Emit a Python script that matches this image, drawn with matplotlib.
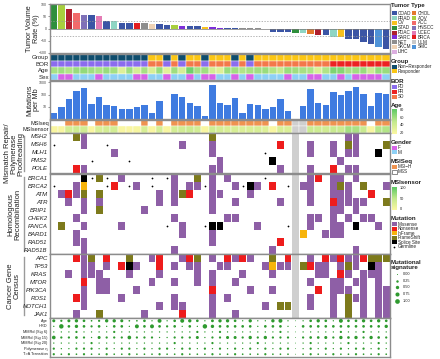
import numpy as np
import matplotlib
matplotlib.use("Agg")
import matplotlib.pyplot as plt
from matplotlib.patches import Rectangle
from matplotlib.colors import LinearSegmentedColormap

plt.rcParams['font.family'] = ['Liberation Sans', 'DejaVu Sans']

# ---- data ----
tumor_types = ['COAD', 'PRAD', 'OV', 'STAD', 'PDAC', 'SARC', 'NET', 'SKCM', 'LIHC',
               'CHOL', 'AOV', 'ACC', 'HNSCC', 'UCEC', 'BRCA', 'ULM', 'SMC']
tumor_colors = ['#3b55a5', '#8fd6c4', '#f7c11e', '#2f8f3c', '#b01f2e', '#7d2ed8', '#8e8e8e',
                '#efd2b4', '#dcaee0', '#e4782c', '#a8cf3e', '#f26a6a', '#7f71b8', '#e47bb4',
                '#e41d1f', '#c9c9c9', '#4f93d8']

patient_type = ['STAD', 'AOV', 'PDAC', 'ACC', 'HNSCC', 'COAD', 'UCEC', 'COAD', 'PRAD', 'COAD',
                'COAD', 'BRCA', 'NET', 'SKCM', 'COAD', 'COAD', 'AOV', 'SARC', 'COAD', 'COAD',
                'OV', 'SARC', 'SARC', 'COAD', 'COAD', 'NET', 'NET', 'NET', 'LIHC', 'COAD',
                'COAD', 'COAD', 'STAD', 'PRAD', 'CHOL', 'PDAC', 'COAD', 'PRAD', 'OV', 'COAD',
                'COAD', 'COAD', 'COAD', 'SMC', 'COAD']
tumor_change = [100, 96, 79, 63, 57, 56, 49, 31, 29, 23, 23, 21, 21, 19, 17, 16, 13, 12, 11, 11,
                7, 5, 4, 3, 2, 1, 1, 1, -3, -13, -16, -16, -17, -17, -21, -25, -27, -35, -35,
                -44, -44, -57, -64, -75, -84]

bor = list("PPPPPPPPPPPPP" + "SS" + "P" + "S" + "P" + "SS" + "P" + "SSS" + "P" + "S" + "P"
           + "SSSSSSSSSS" + "RRRRRRRR")
ages = [58, 60, 55, 62, 64, 60, 57, 62, 59, 35, 60, 40, 58, 38, 62, 33, 60, 40, 74, 58,
        60, 42, 36, 62, 60, 55, 58, 60, 62, 55, 48, 62, 60, 58, 56, 38, 55, 70, 68, 58,
        60, 62, 45, 63, 62]
sex = list("MFFMMMFMMMMFFMMFMMFMFFMMFMFMMMMFMMFFMMFMFFFFM")

mut_per_mb = [3.3, 8.9, 47, 180, 355, 16.5, 60, 13.7, 11, 6.9, 7.2, 8.9, 13, 3.1, 32, 0,
              104, 68, 21, 11, 1.7, 610, 22, 15, 54, 3.3, 16.5, 14, 7, 9, 47, 4.5, 0, 11,
              295, 21, 15, 158, 100, 180, 400, 110, 12, 130, 110]

msiseq = list("SSHHHSHHHSSSHSHSHHHHSHHHHHHHHSHHNNHHHHHHHHSHH")
msisensor = [2, 3, 35, 40, 38, 2, 30, 34, 36, 3, 2, 4, 32, 2, 33, 3, 35, 38, 42, 36,
             3, 40, 34, 30, 32, 28, 30, 32, 26, 3, 30, 28, 0, 0, 42, 40, 38, 45, 44, 65,
             62, 45, 3, 55, 58]
na_col = 32

mmr_genes = ['MSH2', 'MSH6', 'MLH1', 'PMS2', 'POLE']
mmr_hits = ["3F 4M 21F 39M 40M",
            "0G 4M 7G 17M 21M 30N 34M 37M 39F 40M 44F",
            "8M 21M 28G 34M 37M 39M 40M 43S",
            "5G 10G 22M 29S 38M",
            "3N 4M 21M 22M 30M 34M 37N 39M 40M"]
hr_genes = ['BRCA1', 'BRCA2', 'ATM', 'ATR', 'BRIP1', 'CHEK2', 'FANCA', 'BARD1', 'RAD51', 'RAD51B']
hr_hits = ["4S 5G 6F 7G 9M 13G 15G 16M 19F 21M 23M 28G 34M 35N 37M 38M 40M",
           "0G 3M 4I 7G 8N 10G 11M 13G 16M 18M 19M 20G 21M 24M 25G 26S 27M 29N 31G 33M 34M 37M 38F 39M 41F 44M",
           "1M 2N 3M 4F 6F 14M 16M 17F 18N 21M 22M 26M 34M 37M 38M 39M 42N",
           "2M 4M 6M 14M 16M 21M 24M 30M 34M 37N 38M 39M 40M 41M 44F",
           "4M 6F 12M 21M 37M 38M 40M",
           "3M 16M 23M 24M 34M 35M 37M 39M 41M 42M",
           "1F 4M 9M 15G 17M 20G 21S 22S 27M 31G 34M 37M 38M 40S 43M",
           "3M 17M 21M 33I 36M 37M 38M",
           "3M 4M 21M 30N",
           "4M 16M 29M 40M"]
cgc_genes = ['APC', 'TP53', 'KRAS', 'MTOR', 'PIK3CA', 'ROS1', 'NOTCH1', 'JAK1']
cgc_hits = ["3N 4M 5F 7N 10F 13M 14N 17M 18N 19F 21M 23N 24M 25N 26M 29F 31N 34M 36N 37M 38N 39M 40M 41N 42F 43F 44F",
            "4M 5M 7M 9N 10S 11M 14N 16M 18M 19M 22M 23M 28M 29I 30M 31M 33F 34N 35M 36M 38M 39F 40M 42S 43M",
            "2M 4M 5M 6M 10M 14M 19M 21M 25M 29M 35M 36M 38N 39M 41M 42M 43M",
            "4N 6M 7M 13M 16M 19M 21M 24M 34M 37M 38M 40M 41M 43M",
            "4M 6M 7M 11M 21N 26M 29M 35N 37M 38M 39M 41M 43M 44M",
            "3N 4M 9M 16M 21M 23M 34M 37M 39F 40M 41M 43M 44M",
            "4M 14M 16M 17M 21M 28M 30F 31F 34M 37M 39F 41M 43M 44M",
            "3M 6F 12M 17N 21M 24M 37M 39F 41M 43M 44M"]

sig_names = ['Age', 'HRD', 'MMRd (Sig 6)', 'MMRd (Sig 15)', 'MMRd (Sig 20)',
             'Polymerase \u03b7', 'T>A Transition']
sig_age = [.4, .2, .4, .5, .3, .1, .2, .5, .5, .4, .1, .1, .3, .05, .7, .05, .3, .7, .5, .3,
           .05, .35, .5, .5, .3, .05, .5, .05, .05, .5, .7, .05, 0, .05, .3, .5, .3, .05, .7, .3,
           .3, .5, .3, .5, .3]
sig_hrd = [.05, .9, .3, .5, .3, .2, .3, .05, .3, .3, .05, .7, .3, .7, .3, .2, .3, .05, .3, .05,
           .9, .5, .3, .3, .3, .3, .3, .05, .3, .3, .3, .05, 0, .3, .3, .3, .3, .3, .3, .3,
           .3, .3, .3, .3, .5]
sig_6 = [.05, .05, .05, .2, .05, .05, .05, .05, .2, .05, .05, .05, .05, .05, .05, .05, .05, .05, .05, .2,
         .05, .05, .2, .05, .05, .05, .05, .05, .05, .05, .2, .05, 0, .05, .05, .05, .05, .05, .2, .05,
         .05, .2, .05, .05, .05]
sig_15 = [.6, .2, .2, .3, .2, .05, .4, .2, .2, .2, .6, .2, .2, .2, .05, .05, .2, .2, .2, .4,
          .05, .2, .2, .4, .4, .2, .5, .2, .5, .2, .2, .2, 0, .2, .3, .3, .4, .2, .5, .3,
          .5, .2, .5, .3, .2]
sig_20 = [.05, .05, .05, .05, .05, .2, .05, .05, .05, .05, .05, .05, .05, .05, .05, .05, .2, .05, .05, .05,
          .05, .2, .05, .05, .05, .05, .05, .2, .05, .05, .05, .05, 0, .05, .2, .05, .05, .05, .05, .2,
          .05, .05, .05, .2, .05]
sig_pol = [.2, .05, .05, .2, .2, .2, .05, .2, .05, .2, .2, .05, .2, .05, .2, .2, .05, .2, .2, .05,
           .2, .05, .2, .05, .2, .05, .2, .05, .2, .05, .2, .2, 0, .05, .2, .05, .2, .05, .2, .05,
           .2, .2, .05, .2, .05]
sig_ta = [.2, .1, .2, .1, .2, .1, .1, .2, .1, .1, .2, .1, .1, .1, .2, .1, .1, .2, .1, .1,
          .1, .2, .1, .1, .2, .1, .1, .1, .2, .1, .1, .1, 0, .1, .2, .1, .1, .2, .1, .1,
          .2, .1, .1, .2, .1]
sig_rows = [sig_age, sig_hrd, sig_6, sig_15, sig_20, sig_pol, sig_ta]

group_labels = ['Non\u2212Responder', 'Responder']
group_colors = ['#0f4d6d', '#fbc614']
bor_labels = ['PD', 'PR', 'SD']
bor_codes = ['P', 'R', 'S']
bor_colors = {'P': '#8b6cee', 'R': '#ec2222', 'S': '#f3784a'}
sex_colors = {'F': '#d663e8', 'M': '#8dd0f5'}
msi_colors = {'H': '#ef9350', 'S': 'white', 'N': '#cfcfcf'}
mut_labels = ['Missense', 'Nonsense', 'InFrame', 'FrameShift', 'Splice Site']
mut_colors = {'M': '#8e5fa6', 'N': '#ee1c1c', 'I': '#f7b40c', 'F': '#7d7a1c', 'S': '#000000'}

age_cmap = LinearSegmentedColormap.from_list('age', ['#fbf7a2', '#c2e98e', '#5dc964'])
msi_cmap = LinearSegmentedColormap.from_list('msi', ['#fbf7a2', '#c2e98e', '#5dc964'])

# ---- figure ----
W, H = 440, 359
N = len(tumor_change)
x = np.arange(N)
type_color = dict(zip(tumor_types, tumor_colors))
EDGE = '#8c8c8c'

fig = plt.figure(figsize=(W / 100, H / 100), dpi=100)


def px_axes(x0, y0, x1, y1):
    ax = fig.add_axes([x0 / W, 1 - y1 / H, (x1 - x0) / W, (y1 - y0) / H])
    ax.set_xlim(-0.5, N - 0.5)
    ax.set_xticks([])
    for s in ax.spines.values():
        s.set_color(EDGE)
        s.set_linewidth(1.0)
    return ax


# waterfall
ax = px_axes(50, 4, 390, 53)
ax.bar(x, tumor_change, width=0.86, color=[type_color[t] for t in patient_type])
ax.set_ylim(-100, 100)
ax.axhline(0, color='#777777', lw=0.5)
for v in (30, -30):
    ax.axhline(v, color='#999999', lw=0.5, ls=(0, (2, 2)))
ax.set_yticks([-100, -50, 0, 50, 100])
ax.tick_params(axis='y', labelsize=2.5, length=1.2, width=0.4, pad=0.8, colors='#444444')

# clinical annotation rows
ann = px_axes(50, 54, 390, 80)
ann.set_ylim(3.5, -0.5)
ann.set_yticks([])
for c in range(N):
    cells = [group_colors[0] if bor[c] == 'P' else group_colors[1],
             bor_colors[bor[c]],
             age_cmap((ages[c] - 20) / 60),
             sex_colors[sex[c]]]
    for r, fc in enumerate(cells):
        ann.add_patch(Rectangle((c - 0.5, r - 0.5), 1, 1, fc=fc, ec='white', lw=0.3))

# mutations per Mb
mb = px_axes(50, 81, 390, 119)
mb.set_yscale('log')
mb.bar(x, mut_per_mb, width=0.86, color='#3f7be0')
mb.set_ylim(1, 1300)
mb.set_yticks([10, 100, 1000])
mb.set_yticklabels(['10', '100', '1000'])
mb.minorticks_off()
mb.tick_params(axis='y', labelsize=2.5, length=1.2, width=0.4, pad=0.8, colors='#444444')

# MSI rows
msi = px_axes(50, 120, 390, 133)
msi.set_ylim(1.5, -0.5)
msi.set_yticks([])
for c in range(N):
    msi.add_patch(Rectangle((c - 0.5, -0.5), 1, 1, fc=msi_colors[msiseq[c]], ec='white', lw=0.3))
    fc2 = msi_colors['N'] if msiseq[c] == 'N' else msi_cmap(msisensor[c] / 100)
    msi.add_patch(Rectangle((c - 0.5, 0.5), 1, 1, fc=fc2, ec='white', lw=0.3))


def draw_matrix(y0, y1, genes, hits):
    m = px_axes(50, y0, 390, y1)
    n = len(genes)
    m.set_ylim(n - 0.5, -0.5)
    m.set_yticks([])
    m.add_patch(Rectangle((na_col - 0.47, -0.5), 0.94, n, fc='#cfcfcf', ec='none'))
    for r, h in enumerate(hits):
        for tok in h.split():
            c, k = int(tok[:-1]), tok[-1]
            if k == 'G':
                m.scatter([c], [r], s=1.6, color='black', lw=0)
            else:
                m.add_patch(Rectangle((c - 0.46, r - 0.44), 0.92, 0.88, fc=mut_colors[k], ec='none'))
    return m


draw_matrix(133, 173, mmr_genes, mmr_hits)
draw_matrix(174, 254, hr_genes, hr_hits)
draw_matrix(254, 318, cgc_genes, cgc_hits)

# mutational signatures
sg = px_axes(50, 318, 390, 357)
sg.set_ylim(len(sig_names) - 0.5, -0.5)
sg.set_yticks([])
for r, vals in enumerate(sig_rows):
    v = np.array(vals)
    sg.scatter(x, np.full(N, r), s=0.4 + 11 * v, color='#2e9a2e', lw=0)

# overlay for labels and legends, in pixel coordinates
ov = fig.add_axes([0, 0, 1, 1])
ov.patch.set_visible(False)
ov.axis('off')

TXT = '#222222'
ov.text(33, 29, 'Tumor Volume\nRate (%)', rotation=90, ha='center', va='center', fontsize=5.2,
        color=TXT, linespacing=1.0)
ov.text(33, 100, 'Mutations\nper Mb', rotation=90, ha='center', va='center', fontsize=5.2,
        color=TXT, linespacing=1.0)
for i, lab in enumerate(['Group', 'BOR', 'Age', 'Sex']):
    ov.text(49, 57.6 + 6.5 * i, lab, ha='right', va='center', fontsize=4.4, color=TXT)
ov.text(49, 123.3, 'MSIseq', ha='right', va='center', fontsize=4, color=TXT)
ov.text(49, 129.8, 'MSIsensor', ha='right', va='center', fontsize=4, color=TXT)

for y0, y1, genes in [(133, 173, mmr_genes), (174, 254, hr_genes), (254, 318, cgc_genes)]:
    step = (y1 - y0) / len(genes)
    for i, g in enumerate(genes):
        ov.text(47.5, y0 + step * (i + 0.5), g, ha='right', va='center', fontsize=4.3,
                style='italic', color=TXT)
sstep = (357 - 318) / len(sig_names)
for i, s in enumerate(sig_names):
    ov.text(47.5, 318 + sstep * (i + 0.5), s, ha='right', va='center', fontsize=2.8, color=TXT)

for (ya, yb), lab in [((136, 171), 'Mismatch Repair/\nPolymerase\nProofreading'),
                      ((177, 251), 'Homologous\nRecombination'),
                      ((257, 315), 'Cancer Gene\nCensus')]:
    ov.plot([24, 24], [ya, yb], color='#9a9a9a', lw=1.0)
    ov.text(14, (ya + yb) / 2, lab, rotation=90, ha='center', va='center', fontsize=5.5,
            color=TXT, linespacing=0.95)

# legends
LX, TX, FS, TS = 392, 398.5, 3.3, 4.4


def title(y, s):
    ov.text(391, y, s, ha='left', va='center', fontsize=TS, fontweight='bold', color=TXT,
            linespacing=1.0)


def entry(xp, y, col, lab, ec='none'):
    ov.add_patch(Rectangle((xp, y - 2), 4.6, 4, fc=col, ec=ec, lw=0.4))
    ov.text(xp + 6, y, lab, ha='left', va='center', fontsize=FS, color=TXT)


title(6, 'Tumor Type')
for i, (t, c) in enumerate(zip(tumor_types, tumor_colors)):
    col, row = (0, i) if i < 9 else (1, i - 9)
    entry(LX + 19.5 * col, 13.3 + 4.8 * row, c, t)

title(61, 'Group')
for i, (lab, c) in enumerate(zip(group_labels, group_colors)):
    entry(LX, 66.5 + 4.6 * i, c, lab)

title(81.5, 'BOR')
for i, (lab, code) in enumerate(zip(bor_labels, bor_codes)):
    entry(LX, 87 + 4.8 * i, bor_colors[code], lab)

title(105, 'Age')
grad = np.linspace(1, 0, 60)[:, None]
ov.imshow(grad, cmap=age_cmap, extent=[LX, LX + 4.6, 134, 109], aspect='auto')
for v in (80, 60, 40, 20):
    ov.text(TX + 1, 110 + (80 - v) / 60 * 23, str(v), ha='left', va='center', fontsize=2.8, color=TXT)

title(142.7, 'Gender')
entry(LX, 147.5, sex_colors['F'], 'F')
entry(LX, 152.1, sex_colors['M'], 'M')

title(161.3, 'MSISeq')
entry(LX, 166.7, msi_colors['H'], 'MSI\u2212H')
entry(LX, 171.6, 'white', 'MSS', ec='#333333')

title(182.3, 'MSIsensor')
ov.imshow(grad, cmap=msi_cmap, extent=[LX, LX + 4.6, 210, 187], aspect='auto')
for v, yy in ((100, 187.7), (50, 199), (0, 209.5)):
    ov.text(TX + 1, yy, str(v), ha='left', va='center', fontsize=2.8, color=TXT)

title(219, 'Mutation')
for i, k in enumerate('MNIFS'):
    entry(LX, 224.3 + 4.5 * i, mut_colors[k], mut_labels[i])
ov.scatter([LX + 2.3], [247], s=1.6, color='black', lw=0)
ov.text(LX + 6, 247, 'Germline', ha='left', va='center', fontsize=FS, color=TXT)

title(265, 'Mutational\nsignature')
for i, v in enumerate([0, 0.25, 0.5, 0.75, 1.0]):
    yy = 274 + 6.7 * i
    ov.scatter([396.5], [yy], s=0.4 + 11 * v, color='#2e9a2e', lw=0)
    ov.text(402.5, yy, '%.2f' % v, ha='left', va='center', fontsize=2.8, color=TXT)

ov.set_xlim(0, W)
ov.set_ylim(H, 0)

fig.savefig('out.png', dpi=100)
